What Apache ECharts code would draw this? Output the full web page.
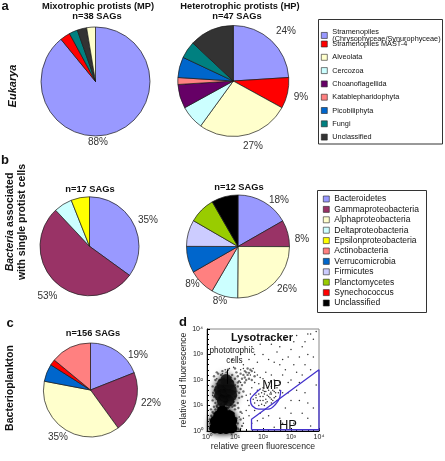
<!DOCTYPE html>
<html><head><meta charset="utf-8">
<script src="https://cdn.jsdelivr.net/npm/echarts@6/dist/echarts.min.js"></script>
<style>html,body{margin:0;padding:0;background:#fff}#c{width:445px;height:461px}</style>
</head><body><div id="c"></div>
<script>
const FONT = '"Liberation Sans", Arial, Helvetica, sans-serif';

// ---------- Panel a : Eukarya ----------
const euCategories = ['Stramenopiles\n(Chrysophyceae/Synurophyceae)', 'Stramenopiles MAST-4', 'Alveolata', 'Cercozoa',
  'Choanoflagellida', 'Katablepharidophyta', 'Picobiliphyta', 'Fungi', 'Unclassified'];
const euColors = ['#9999FF', '#FF0000', '#FFFFCC', '#CCFFFF', '#660066', '#FF8080', '#0066CC', '#008080', '#333333'];
const mpCategories = ['Stramenopiles\n(Chrysophyceae/Synurophyceae)', 'Stramenopiles MAST-4', 'Fungi', 'Unclassified', 'Alveolata'];
const mpValues = [89, 3, 2.5, 2.8, 2.6];
const mpLabels = ['88%'];
const hpValues = [24, 9, 27, 7, 7, 2, 6, 5, 13];
const hpLabels = ['24%', '9%', '27%'];

// ---------- Panel b : bacteria with protists ----------
const bacCategories = ['Bacteroidetes', 'Gammaproteobacteria', 'Alphaproteobacteria', 'Deltaproteobacteria',
  'Epsilonproteobacteria', 'Actinobacteria', 'Verrucomicrobia', 'Firmicutes', 'Planctomycetes', 'Synechococcus', 'Unclassified'];
const bacColors = ['#9999FF', '#993366', '#FFFFCC', '#CCFFFF', '#FFFF00', '#FF8080', '#0066CC', '#CCCCFF', '#99CC00', '#FF0000', '#000000'];
const b1Categories = ['Bacteroidetes', 'Gammaproteobacteria', 'Deltaproteobacteria', 'Epsilonproteobacteria'];
const b1Values = [35, 53, 6, 6];
const b1Labels = ['35%', '53%'];
const b2Categories = ['Bacteroidetes', 'Gammaproteobacteria', 'Alphaproteobacteria', 'Deltaproteobacteria',
  'Actinobacteria', 'Verrucomicrobia', 'Firmicutes', 'Planctomycetes', 'Unclassified'];
const b2Values = [16.7, 8.3, 25, 8.3, 8.3, 8.3, 8.3, 8.3, 8.3];
const b2Labels = ['18%', '8%', '26%', '8%', '8%'];

// ---------- Panel c : bacterioplankton ----------
const cCategories = ['Bacteroidetes', 'Gammaproteobacteria', 'Alphaproteobacteria', 'Verrucomicrobia', 'Synechococcus', 'Actinobacteria'];
const cValues = [19, 21, 38, 6, 2, 14];
const cLabels = ['19%', '22%', '35%'];

// ---------- Panel d : flow cytometry (log10 units) ----------
const logTickLabels = ['10\u2070', '10\u00B9', '10\u00B2', '10\u00B3', '10\u2074'];
const denseLow = [[0.28,0.12],[0.48,0.1],[0.68,0.1],[0.88,0.12],[0.3,0.38],[0.5,0.35],[0.7,0.35],[0.88,0.4],
  [0.42,0.6],[0.62,0.58],[0.8,0.6],[0.55,0.78]];
const denseHigh = [[0.55,1.18],[0.78,1.18],[0.45,1.4],[0.65,1.38],[0.88,1.4],[0.45,1.62],[0.66,1.6],[0.86,1.62],
  [0.55,1.85],[0.78,1.85],[0.68,2.02]];
const haloEvents = [[0.15,0.6],[0.2,0.75],[0.3,0.85],[0.4,0.9],[0.8,0.8],[0.95,0.7],[1.05,0.5],[1.1,0.3],[1.1,0.1],
  [1.0,0.85],[0.12,0.3],[0.1,0.1],[0.9,0.95],[0.55,0.95],[0.45,1.0],[0.7,0.92],
  [0.3,1.1],[0.25,1.35],[0.28,1.6],[0.35,1.85],[0.45,2.0],[0.6,2.05],[0.95,1.15],[1.0,1.35],[1.05,1.55],[1.0,1.8],
  [0.9,1.95],[0.75,2.1],[0.4,1.05],[0.95,1.0],[1.15,1.3],[1.2,1.65],[0.5,2.2],[0.7,2.3],
  [1.0,2.05],[1.1,2.15],[1.2,2.25],[1.3,2.2],[1.4,2.3],[1.5,2.28],[1.15,1.95],[1.25,2.05],[1.35,2.1],[1.45,2.2],
  [0.9,2.2],[1.05,2.3],[1.6,2.35],
  [0.1,0.45],[0.14,0.85],[0.25,0.95],[0.35,1.0],[0.6,1.0],[0.8,0.95],[1.0,1.0],[1.12,0.9],[1.2,0.75],[1.2,0.45],
  [1.25,0.2],[1.15,0.05],[1.05,0.05],[0.2,1.2],[0.22,1.5],[0.2,1.75],[0.3,2.0],[0.4,2.25],[0.55,2.35],[0.85,2.1],
  [1.1,1.1],[1.15,1.5],[1.1,1.75],[1.1,1.9],[1.25,1.8],[1.3,1.55],[1.25,1.35],[1.35,1.9],[1.4,2.0],[1.5,2.05],
  [1.55,2.4],[1.45,2.45],[1.35,2.35],[1.7,2.15],[1.6,2.0],[1.0,2.45],[0.75,2.4],[0.35,2.3],[0.25,2.15],
  [0.45,0.85],[0.55,0.88],[0.65,0.85],[0.75,0.9],[0.5,1.05],[0.65,1.05],[0.85,1.05],[0.35,0.95]];
const sparseEvents = [[0.12,0.05],[0.18,0.55],[0.22,0.7],[0.28,0.05],[1.2,0.1],[1.15,0.55],[1.3,0.3],[1.25,0.7],
  [0.6,0.8],[0.85,1.0],[0.2,1.4],[0.35,1.3],[0.4,1.7],[0.9,1.5],[0.85,1.75],[0.55,2.25],[0.65,2.4],[0.35,2.05],
  [1.2,2.4],[1.3,2.45],[1.55,2.2],[1.7,2.3],[1.2,1.9],[0.8,2.45],[0.95,2.5],[1.65,2.45],[1.8,2.2],
  [1.75,1.3],[1.85,1.45],[1.9,1.2],[2.0,1.35],[2.05,1.55],[2.1,1.25],[2.15,1.4],[2.2,1.6],[2.25,1.3],[2.3,1.45],
  [2.35,1.2],[2.4,1.55],[1.95,1.05],[2.1,1.1],[2.45,1.35],[2.5,1.7],[1.8,1.6],[2.0,1.7],[2.3,1.75],[2.55,1.5],
  [1.7,1.1],[2.2,1.9],[1.9,1.35],[2.05,1.45],[2.28,1.52],
  [1.75,1.4],[1.8,1.2],[1.85,1.0],[1.95,1.5],[2.0,1.2],[2.05,1.0],[2.1,1.55],[2.15,1.15],[2.2,1.35],[2.25,1.45],
  [2.3,1.25],[2.35,1.6],[2.4,1.3],[2.45,1.5],[2.0,1.6],[1.9,1.65],[2.15,1.7],[2.3,1.1],[2.5,1.2],[2.6,1.6],
  [1.5,1.0],[1.4,1.4],[1.6,1.7],[1.5,0.6],[1.8,0.4],[1.9,2.1],[2.1,2.3],[2.4,2.0],[2.7,2.2],[2.9,1.9],[3.1,2.6],
  [2.6,2.6],[2.2,2.8],[1.8,2.7],[2.0,3.0],[2.5,3.1],[3.0,3.2],[3.3,2.9],[3.5,3.5],[2.8,3.6],[1.6,3.3],[2.3,3.4],
  [3.6,3.0],[3.8,3.6],[2.9,2.9],[3.2,1.6],[3.0,1.2],[2.8,0.9],[3.4,0.7],[3.6,1.1],[2.6,0.5],[3.1,0.3],[2.2,0.6],
  [3.7,0.2],[2.4,0.15],[1.4,3.7],[1.2,3.0],[0.9,2.8],[3.9,3.9],[3.4,2.2],[3.2,3.75],[3.7,3.8],[2.7,1.5],
  [1.3,0.5],[1.4,0.8],[1.6,0.3],[1.7,0.8],[1.9,0.7],[2.0,0.5],[1.45,1.2],[1.55,1.45],[1.65,1.25],[1.7,1.9],
  [1.85,1.85],[2.0,2.05],[2.3,2.2],[2.6,1.9],[2.8,2.4],[3.0,2.0],[3.2,2.3],[3.5,2.6],[3.7,2.4],[3.3,1.9],
  [3.5,1.5],[2.9,1.5],[3.3,1.2],[3.6,0.5],[3.8,0.9],[3.0,0.7],[2.7,0.3],[3.9,1.8],[3.8,2.9],[3.4,3.3],
  [2.6,3.3],[2.1,3.6],[1.7,3.0],[1.9,3.4],[2.4,2.7],[2.7,2.8],[3.1,3.5],[3.6,3.8],[1.5,2.8],[1.3,2.6]];
const hpGate = [[1.59,0.05],[1.59,0.46],[4,2.4],[4,0.05],[1.59,0.05]];
const mpGate = [[1.89,1.64],[1.7,1.45],[1.55,1.22],[1.62,0.98],[1.85,0.86],[2.19,0.86],[2.45,1.05],[2.6,1.32],[2.63,1.61]];
const arrowPath = [[0.73,1.85],[0.73,2.4]];

// ---------- helpers ----------
function pieData(cats, vals, allCats, colors) {
  return cats.map((n, i) => ({ name: n, value: vals[i], itemStyle: { color: colors[allCats.indexOf(n)] } }));
}
const pieBase = {
  type: 'pie', startAngle: 90, clockwise: true, silent: true, animation: false,
  label: { show: false }, labelLine: { show: false },
  itemStyle: { borderColor: '#1a1a1a', borderWidth: 0.7 },
  emphasis: { disabled: true }
};
function txt(x, y, text, size, weight, extra) {
  return Object.assign({
    type: 'text', x: x, y: y, z: 100, silent: true,
    style: { text: text, fontSize: size, fontWeight: weight || 'normal', fontFamily: FONT, fill: '#111',
      align: 'center', verticalAlign: 'middle' }
  }, extra || {});
}
function vtxt(x, y, text, size, extraStyle) {
  const t = txt(x, y, text, size, 'bold', { rotation: Math.PI / 2 });
  Object.assign(t.style, extraStyle || {});
  return t;
}
function legendItems(cats, colors) {
  return cats.map((n, i) => ({ name: n, itemStyle: { color: colors[i], borderColor: '#222', borderWidth: 0.6 } }));
}

// positions of percentage labels (layout only)
const labelPos = {
  mp: [[98, 142]],
  hp: [[286, 31.5], [301, 97.5], [253, 146]],
  b1: [[148, 220], [47.5, 296]],
  b2: [[279, 200.5], [302, 239], [287, 289], [220, 301.5], [192.5, 284]],
  c: [[138, 355], [151, 403], [58, 437]]
};
const pctText = [];
[['mp', mpLabels], ['hp', hpLabels], ['b1', b1Labels], ['b2', b2Labels], ['c', cLabels]].forEach(([k, labs]) => {
  labs.forEach((l, i) => pctText.push(txt(labelPos[k][i][0], labelPos[k][i][1], l, 10, 'normal', null)));
});
pctText.forEach(t => t.style.fill = '#333');

const graphics = [
  txt(5, 6, 'a', 13, 'bold'),
  txt(98, 6, 'Mixotrophic protists (MP)', 9.3, 'bold'),
  txt(97, 16, 'n=38 SAGs', 9.3, 'bold'),
  txt(240, 6, 'Heterotrophic protists (HP)', 9.3, 'bold'),
  txt(237, 16, 'n=47 SAGs', 9.3, 'bold'),
  vtxt(12.5, 86, 'Eukarya', 11, { fontStyle: 'italic' }),
  txt(5, 160, 'b', 13, 'bold'),
  {
    type: 'text', x: 10, y: 222, rotation: Math.PI / 2, z: 100, silent: true,
    style: {
      text: '{i|Bacteria}{n| associated}', align: 'center', verticalAlign: 'middle',
      rich: {
        i: { fontStyle: 'italic', fontWeight: 'bold', fontSize: 10.5, fontFamily: FONT, fill: '#111' },
        n: { fontWeight: 'bold', fontSize: 10.5, fontFamily: FONT, fill: '#111' }
      }
    }
  },
  vtxt(22, 222, 'with single protist cells', 10.5),
  txt(90, 189, 'n=17 SAGs', 9.3, 'bold'),
  txt(239, 187, 'n=12 SAGs', 9.3, 'bold'),
  txt(10, 323, 'c', 13, 'bold'),
  vtxt(10, 388, 'Bacterioplankton', 10.5),
  txt(93, 333, 'n=156 SAGs', 9.3, 'bold'),
  txt(183, 322, 'd', 13, 'bold'),
  txt(262, 338, 'Lysotracker', 11, 'bold'),
  txt(232, 351, 'phototrophic', 8.2),
  txt(234.5, 360.5, 'cells', 8.2),
  txt(272, 385, 'MP', 13),
  txt(288, 425, 'HP', 13),
  { type: 'rect', z: 90, silent: true, shape: { x: 318.5, y: 19.5, width: 124, height: 124.5 },
    style: { fill: 'none', stroke: '#333', lineWidth: 1 } },
  { type: 'rect', z: 90, silent: true, shape: { x: 317.5, y: 190.5, width: 109, height: 122 },
    style: { fill: 'none', stroke: '#333', lineWidth: 1 } }
].concat(pctText);

const chart = echarts.init(document.getElementById('c'), null, { renderer: 'canvas' });
chart.setOption({
  backgroundColor: '#fff',
  animation: false,
  textStyle: { fontFamily: FONT },
  legend: [
    { data: legendItems([euCategories[0]], [euColors[0]]), orient: 'vertical', left: 321, top: 28.6, padding: 0,
      itemWidth: 6, itemHeight: 6, icon: 'rect', selectedMode: false,
      textStyle: { fontSize: 7.3, lineHeight: 6.7, color: '#111', fontFamily: FONT } },
    { data: legendItems(euCategories.slice(1), euColors.slice(1)), orient: 'vertical', left: 321, top: 40.5, padding: 0,
      itemGap: 6.3, itemWidth: 6, itemHeight: 6, icon: 'rect', selectedMode: false,
      textStyle: { fontSize: 7.3, lineHeight: 7, color: '#111', fontFamily: FONT } },
    { data: legendItems(bacCategories, bacColors), orient: 'vertical', left: 323, top: 194.5, padding: 0,
      itemGap: 1.4, itemWidth: 6, itemHeight: 6, icon: 'rect', selectedMode: false,
      textStyle: { fontSize: 8.5, lineHeight: 9, color: '#111', fontFamily: FONT } }
  ],
  grid: { left: 207, top: 329, width: 112, height: 102, show: true, borderColor: '#888', borderWidth: 1 },
  xAxis: {
    type: 'value', min: 0, max: 4, interval: 1,
    name: 'relative green fluorescence', nameLocation: 'middle', nameGap: 10,
    nameTextStyle: { fontSize: 8.7, color: '#222', fontFamily: FONT },
    axisLine: { onZero: false, lineStyle: { color: '#000', width: 1 } },
    axisTick: { inside: true, length: 3, lineStyle: { color: '#000' } },
    minorTick: { show: true, splitNumber: 5, length: 2, lineStyle: { color: '#000' } },
    axisLabel: { formatter: v => logTickLabels[Math.round(v)], fontSize: 7, margin: 3, color: '#222' },
    splitLine: { show: false }
  },
  yAxis: {
    type: 'value', min: 0, max: 4, interval: 1,
    name: 'relative red fluorescence', nameLocation: 'middle', nameGap: 17,
    nameTextStyle: { fontSize: 8.7, color: '#222', fontFamily: FONT },
    axisLine: { onZero: false, lineStyle: { color: '#000', width: 1 } },
    axisTick: { inside: true, length: 3, lineStyle: { color: '#000' } },
    minorTick: { show: true, splitNumber: 5, length: 2, lineStyle: { color: '#000' } },
    axisLabel: { formatter: v => logTickLabels[Math.round(v)], fontSize: 7, margin: 4, color: '#222' },
    splitLine: { show: false }
  },
  series: [
    Object.assign({}, pieBase, { name: 'MP', center: [95.5, 81.5], radius: 54.5, data: pieData(mpCategories, mpValues, euCategories, euColors) }),
    Object.assign({}, pieBase, { name: 'HP', center: [233.3, 81], radius: 55.5, data: pieData(euCategories, hpValues, euCategories, euColors) }),
    Object.assign({}, pieBase, { name: 'b1', center: [89.5, 246.3], radius: 49.5, data: pieData(b1Categories, b1Values, bacCategories, bacColors) }),
    Object.assign({}, pieBase, { name: 'b2', center: [238, 246.5], radius: 51.5, data: pieData(b2Categories, b2Values, bacCategories, bacColors) }),
    Object.assign({}, pieBase, { name: 'c', center: [90.5, 390], radius: 47, data: pieData(cCategories, cValues, bacCategories, bacColors) }),
    { type: 'scatter', name: 'halo', data: haloEvents, symbolSize: 2.4, silent: true, z: 2,
      itemStyle: { color: '#000', opacity: 0.55 } },
    { type: 'scatter', name: 'dense1', data: denseLow, symbolSize: 11, silent: true, z: 3,
      itemStyle: { color: '#000', opacity: 1, shadowBlur: 6, shadowColor: 'rgba(0,0,0,0.9)' } },
    { type: 'scatter', name: 'dense2', data: denseHigh, symbolSize: 11, silent: true, z: 3,
      itemStyle: { color: '#111', opacity: 0.85, shadowBlur: 7, shadowColor: 'rgba(0,0,0,0.8)' } },
    { type: 'scatter', name: 'sparse', data: sparseEvents, symbolSize: 1.5, silent: true, z: 2,
      itemStyle: { color: '#000', opacity: 0.8 } },
    { type: 'line', name: 'HP gate', data: hpGate, showSymbol: false, symbol: 'none', clip: false, silent: true, z: 5,
      lineStyle: { color: '#4433CC', width: 1.3 } },
    { type: 'line', name: 'MP gate', data: mpGate, smooth: 0.4, showSymbol: false, symbol: 'none', silent: true, z: 5,
      lineStyle: { color: '#4433CC', width: 1.3 } },
    { type: 'line', name: 'arrow', data: [], silent: true, z: 6,
      markLine: { silent: true, symbol: ['none', 'triangle'], symbolSize: [0, 5], label: { show: false },
        lineStyle: { color: '#000', width: 1, type: 'solid' },
        data: [[{ coord: arrowPath[0] }, { coord: arrowPath[1] }]] } }
  ],
  graphic: graphics
});
</script>
</body></html>
